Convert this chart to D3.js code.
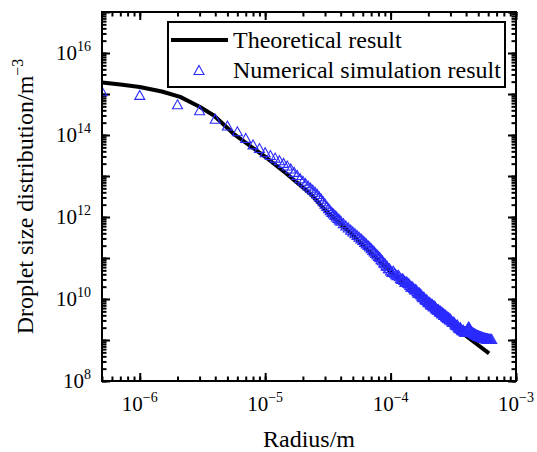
<!DOCTYPE html>
<html>
<head>
<meta charset="utf-8">
<script src="https://cdn.jsdelivr.net/npm/d3@7"></script>
<style>
  body { margin: 0; background: #fff; }
  svg { display: block; font-family: "Liberation Serif", "Times New Roman", serif; }
</style>
</head>
<body>
<svg width="537" height="452"></svg>
<script>
// theoretical curve (radius in m, density in m^-3)
var theoryR = [5e-7, 7e-7, 1e-6, 1.5e-6, 2.1e-6, 3e-6, 3.9e-6, 5.6e-6, 1.03e-5, 1.49e-5, 2.3e-5,
  3e-5, 5e-5, 1e-4, 2e-4, 3e-4, 4e-4, 6.1e-4];
var theoryN = [1.9e15, 1.7e15, 1.48e15, 1.15e15, 8.5e14, 4.9e14, 3.0e14, 1.07e14, 2.75e13, 1.12e13, 3.64e12,
  1.48e12, 3.64e11, 4.56e10, 7.98e9, 2.6e9, 1.25e9, 4.7e8];

// numerical simulation (radius in um, density in m^-3)
var simR = [0.5, 1, 2, 3, 4, 5, 6, 7, 8, 9,
  10, 11, 12, 13, 14, 15, 16, 17, 18, 19, 20, 21, 22, 23, 24, 25, 26, 27, 28, 29,
  30, 31, 32, 33, 34, 35, 36, 37, 38, 39, 40,
  42, 44, 46, 48, 50, 52, 54, 56, 58, 60, 62, 64, 66, 68, 70, 72, 74, 76, 78, 80,
  82, 84, 86, 88, 90, 92, 94, 96, 98,
  100, 102.5, 105, 107.5, 110, 112.5, 115, 117.5, 120, 122.5,
  125, 127.5, 130, 132.5, 135, 137.5, 140, 142.5, 145, 147.5,
  150, 152.5, 155, 157.5, 160, 162.5, 165, 167.5, 170, 172.5,
  175, 177.5, 180, 182.5, 185, 187.5, 190, 192.5, 195, 197.5,
  200, 202.5, 205, 207.5, 210, 212.5, 215, 217.5, 220, 222.5,
  225, 227.5, 230, 232.5, 235, 237.5, 240, 242.5, 245, 247.5,
  250, 252.5, 255, 257.5, 260, 262.5, 265, 267.5, 270, 272.5,
  275, 277.5, 280, 282.5, 285, 287.5, 290, 292.5, 295, 297.5,
  300, 305, 310, 315, 320, 325, 330, 335, 340, 345,
  350, 355, 360, 365, 370, 375, 380, 385, 390, 395,
  400, 405, 410, 415, 420, 425, 430, 435, 440, 445,
  450, 455, 460, 465, 470, 475, 480, 485, 490, 495,
  500, 505, 510, 515, 520, 525, 530, 535, 540, 545,
  550, 555, 560, 565, 570, 575, 580, 585, 590, 595,
  600, 610, 620, 630, 640];
var simN = [1.17e15, 9.5e14, 5.6e14, 4.0e14, 2.5e14, 1.7e14, 1.23e14, 8.5e13, 5.9e13, 4.8e13,
  3.8e13, 3.25e13, 2.81e13, 2.43e13, 2.09e13, 1.80e13, 1.53e13, 1.26e13, 1.06e13, 8.83e12,
  7.64e12, 6.67e12, 5.86e12, 5.19e12, 4.63e12, 4.12e12, 3.64e12, 3.18e12, 2.79e12, 2.43e12,
  2.12e12, 1.85e12, 1.65e12, 1.46e12, 1.33e12, 1.22e12, 1.12e12, 1.03e12, 9.46e11, 8.73e11, 8.17e11,
  7.10e11, 6.24e11, 5.55e11, 4.93e11, 4.43e11, 4.03e11, 3.64e11, 3.31e11, 3.01e11, 2.74e11,
  2.48e11, 2.27e11, 2.07e11, 1.90e11, 1.73e11, 1.58e11, 1.45e11, 1.32e11, 1.22e11, 1.12e11,
  1.05e11, 9.3e10, 8.8e10, 7.8e10, 7.5e10, 6.6e10, 6.4e10, 5.6e10, 5.6e10,
  5.0e10, 4.6e10, 4.9e10, 4.4e10, 4.0e10, 3.8e10, 3.9e10, 3.6e10, 3.2e10, 3.1e10,
  3.2e10, 2.9e10, 2.6e10, 2.7e10, 2.65e10, 2.45e10, 2.4e10, 2.2e10, 2.0e10, 2.05e10,
  2.0e10, 1.85e10, 1.7e10, 1.75e10, 1.7e10, 1.55e10, 1.42e10, 1.45e10, 1.42e10, 1.35e10,
  1.3e10, 1.2e10, 1.1e10, 1.13e10, 1.12e10, 1.02e10, 9.6e9, 9.8e9, 9.6e9, 8.8e9,
  8.3e9, 8.5e9, 8.4e9, 7.7e9, 7.3e9, 7.6e9, 7.5e9, 7.0e9, 6.6e9, 6.9e9,
  6.8e9, 6.2e9, 5.9e9, 5.9e9, 5.6e9, 5.5e9, 5.7e9, 5.4e9, 5.0e9, 5.0e9,
  5.2e9, 4.9e9, 4.5e9, 4.5e9, 4.7e9, 4.5e9, 4.1e9, 4.1e9, 4.3e9, 4.1e9,
  3.8e9, 3.75e9, 3.9e9, 3.7e9, 3.45e9, 3.4e9, 3.6e9, 3.45e9, 3.2e9, 3.15e9,
  3.3e9, 3.0e9, 2.8e9, 2.75e9, 2.8e9, 2.55e9, 2.35e9, 2.3e9, 2.4e9, 2.15e9,
  2.0e9, 1.95e9, 2.05e9, 1.85e9, 1.75e9, 1.72e9, 1.78e9, 1.65e9, 1.6e9, 1.6e9,
  1.62e9, 1.7e9, 1.85e9, 2.0e9, 2.13e9, 1.95e9, 1.80e9, 1.7e9, 1.61e9, 1.58e9,
  1.54e9, 1.5e9, 1.48e9, 1.45e9, 1.42e9, 1.39e9, 1.36e9, 1.34e9, 1.32e9, 1.3e9,
  1.29e9, 1.27e9, 1.25e9, 1.24e9, 1.22e9, 1.21e9, 1.20e9, 1.18e9, 1.17e9, 1.16e9,
  1.15e9, 1.14e9, 1.13e9, 1.12e9, 1.11e9, 1.1e9, 1.10e9, 1.095e9, 1.09e9, 1.085e9,
  1.08e9, 1.07e9, 1.06e9, 1.06e9, 1.06e9];

var xLabelTicks = [1e-6, 1e-5, 1e-4, 1e-3];
var xLabelExp = ["\u22126", "\u22125", "\u22124", "\u22123"];
var yLabelTicks = [1e8, 1e10, 1e12, 1e14, 1e16];
var yLabelExp = ["8", "10", "12", "14", "16"];
var legendNames = ["Theoretical result", "Numerical simulation result"];

var svg = d3.select("svg");
var plotLeft = 102, plotTop = 12, plotW = 414, plotH = 369;

var x = d3.scaleLog().domain([5e-7, 1e-3]).range([plotLeft, plotLeft + plotW]);
var y = d3.scaleLog().domain([1e8, 1e17]).range([plotTop + plotH, plotTop]);

svg.append("defs").append("clipPath").attr("id", "plotclip")
  .append("rect").attr("x", plotLeft).attr("y", plotTop).attr("width", plotW).attr("height", plotH);

// ticks: minor from the log scale, major at each decade
function isDecade(t) { return Math.abs(Math.log10(t) - Math.round(Math.log10(t))) < 1e-6; }
var xMinor = x.ticks().filter(function(t) { return t >= 5e-7 && t <= 1e-3; });
var xMajor = xMinor.filter(isDecade);
var yMinor = y.ticks().filter(function(t) { return t >= 1e8 && t <= 1e17; });
var yMajor = yMinor.filter(isDecade);

function drawAxis(axisFn, scale, values, size, tx, ty) {
  var g = svg.append("g")
    .attr("transform", "translate(" + tx + "," + ty + ")")
    .call(axisFn(scale).tickValues(values).tickSize(size).tickFormat(""));
  g.select(".domain").remove();
  g.selectAll("line").attr("stroke", "#000").attr("stroke-width", 2);
}
drawAxis(d3.axisBottom, x, xMinor, -4.5, 0, plotTop + plotH);
drawAxis(d3.axisBottom, x, xMajor, -8, 0, plotTop + plotH);
drawAxis(d3.axisTop, x, xMinor, -4.5, 0, plotTop);
drawAxis(d3.axisTop, x, xMajor, -8, 0, plotTop);
drawAxis(d3.axisLeft, y, yMinor, -4.5, plotLeft, 0);
drawAxis(d3.axisLeft, y, yMajor, -8, plotLeft, 0);
drawAxis(d3.axisRight, y, yMinor, -4.5, plotLeft + plotW, 0);
drawAxis(d3.axisRight, y, yMajor, -8, plotLeft + plotW, 0);

// theoretical line
var line = d3.line()
  .x(function(d, i) { return x(theoryR[i]); })
  .y(function(d, i) { return y(theoryN[i]); });

var plot = svg.append("g").attr("clip-path", "url(#plotclip)");
plot.append("path")
  .datum(theoryR)
  .attr("d", line)
  .attr("fill", "none")
  .attr("stroke", "#000")
  .attr("stroke-width", 4)
  .attr("stroke-linejoin", "round");

// hollow triangles
var tri = "M0,-4.5L5,4.5L-5,4.5Z";
plot.selectAll(".sim")
  .data(simR)
  .enter().append("path")
  .attr("class", "sim")
  .attr("d", tri)
  .attr("transform", function(d, i) { return "translate(" + x(d * 1e-6) + "," + y(simN[i]) + ")"; })
  .attr("fill", "none")
  .attr("stroke", "#2b2bff")
  .attr("stroke-width", 1.1);

// frame
svg.append("rect")
  .attr("x", plotLeft).attr("y", plotTop).attr("width", plotW).attr("height", plotH)
  .attr("fill", "none").attr("stroke", "#000").attr("stroke-width", 2);

// tick labels
xLabelTicks.forEach(function(t, i) {
  var txt = svg.append("text")
    .attr("x", x(t)).attr("y", 411)
    .attr("text-anchor", "middle")
    .attr("font-size", 21);
  txt.append("tspan").text("10");
  txt.append("tspan").attr("dy", -9).attr("font-size", 14).text(xLabelExp[i]);
});
yLabelTicks.forEach(function(t, i) {
  var txt = svg.append("text")
    .attr("x", 91).attr("y", y(t) + 7)
    .attr("text-anchor", "end")
    .attr("font-size", 21);
  txt.append("tspan").text("10");
  txt.append("tspan").attr("dy", -9).attr("font-size", 14).text(yLabelExp[i]);
});

// axis titles
svg.append("text")
  .attr("x", plotLeft + plotW / 2).attr("y", 447)
  .attr("text-anchor", "middle")
  .attr("font-size", 24)
  .text("Radius/m");

var yt = svg.append("text")
  .attr("transform", "translate(33," + (plotTop + plotH / 2) + ") rotate(-90)")
  .attr("text-anchor", "middle")
  .attr("font-size", 24);
yt.append("tspan").text("Droplet size distribution/m");
yt.append("tspan").attr("dy", -10).attr("font-size", 16).text("\u22123");

// legend
var lg = svg.append("g");
lg.append("rect")
  .attr("x", 168).attr("y", 22).attr("width", 337).attr("height", 65)
  .attr("fill", "#fff").attr("stroke", "#000").attr("stroke-width", 2);
lg.append("line")
  .attr("x1", 171).attr("x2", 228).attr("y1", 40).attr("y2", 40)
  .attr("stroke", "#000").attr("stroke-width", 4);
lg.append("path")
  .attr("d", tri)
  .attr("transform", "translate(199,70)")
  .attr("fill", "none").attr("stroke", "#2b2bff").attr("stroke-width", 1.1);
lg.selectAll(".lgtext")
  .data(legendNames)
  .enter().append("text")
  .attr("class", "lgtext")
  .attr("x", 233)
  .attr("y", function(d, i) { return 48 + i * 30; })
  .attr("font-size", 24)
  .text(function(d) { return d; });
</script>
</body>
</html>
